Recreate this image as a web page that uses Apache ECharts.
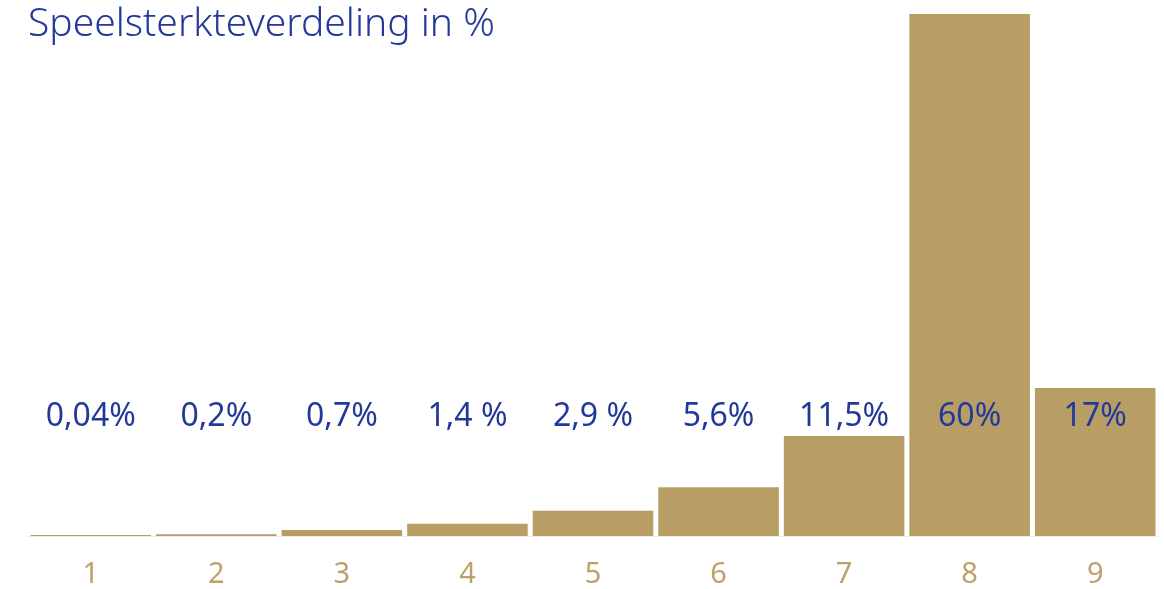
<!DOCTYPE html>
<html>
<head>
<meta charset="utf-8">
<script src="https://cdn.jsdelivr.net/npm/echarts@6/dist/echarts.min.js"></script>
<style>
  html, body { margin: 0; padding: 0; background: #fff; }
  #chart { width: 1164px; height: 589px; }
</style>
</head>
<body>
<div id="chart"></div>
<script>
// speelsterkte klassen
const categories = ['1', '2', '3', '4', '5', '6', '7', '8', '9'];
const values = [0.04, 0.2, 0.7, 1.4, 2.9, 5.6, 11.5, 60, 17];
const valueLabels = ['0,04%', '0,2%', '0,7%', '1,4 %', '2,9 %', '5,6%', '11,5%', '60%', '17%'];

const gold = '#b89e65';
const blue = '#22399a';

const chart = echarts.init(document.getElementById('chart'));
chart.setOption({
  animation: false,
  title: {
    text: 'Speelsterkteverdeling in %',
    left: 23,
    top: 0,
    textStyle: {
      fontFamily: 'Noto Sans',
      fontSize: 39,
      fontWeight: 300,
      color: blue
    }
  },
  grid: {
    left: 28,
    right: 6,
    top: 14,
    bottom: 51
  },
  xAxis: {
    type: 'category',
    data: categories,
    axisLine: { lineStyle: { color: '#ececec', width: 1 } },
    axisTick: { show: false },
    axisLabel: {
      color: '#bfa06a',
      fontFamily: 'Noto Sans',
      fontSize: 29,
      margin: 24
    }
  },
  yAxis: {
    type: 'value',
    min: 0,
    max: 60,
    show: false
  },
  series: [{
    type: 'bar',
    data: values,
    barCategoryGap: '4%',
    barMinHeight: 1,
    itemStyle: { color: gold },
    label: {
      show: true,
      position: 'insideBottom',
      distance: 0,
      offset: [0, -103],
      fontFamily: 'Noto Sans',
      fontSize: 32,
      color: blue,
      formatter: p => valueLabels[p.dataIndex]
    }
  }]
});
</script>
</body>
</html>
